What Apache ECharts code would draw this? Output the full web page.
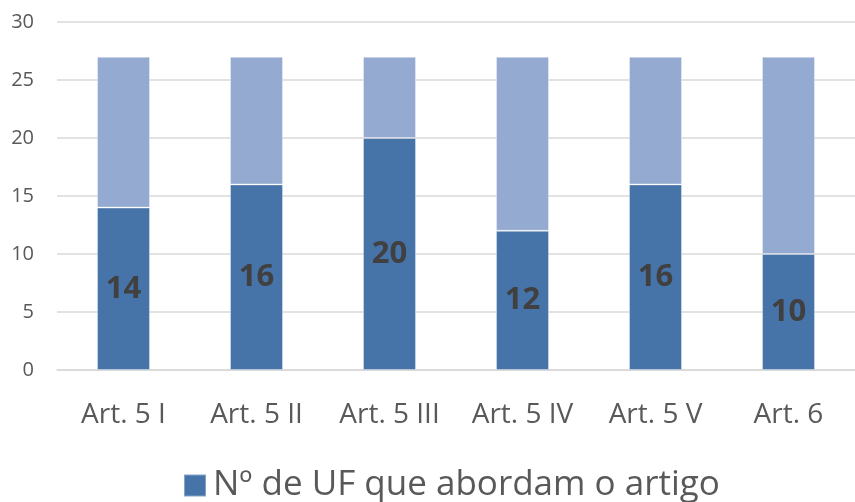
<!DOCTYPE html>
<html>
<head>
<meta charset="utf-8">
<script src="https://cdn.jsdelivr.net/npm/echarts@6/dist/echarts.min.js"></script>
<style>
  html, body { margin: 0; padding: 0; background: #fff; }
  #chart { width: 855px; height: 502px; }
</style>
</head>
<body>
<div id="chart"></div>
<script>
// dados
const categorias = ['Art. 5 I', 'Art. 5 II', 'Art. 5 III', 'Art. 5 IV', 'Art. 5 V', 'Art. 6'];
const abordam = [14, 16, 20, 12, 16, 10];     // Nº de UF que abordam o artigo
const restante = [13, 11, 7, 15, 11, 17];     // parte clara até 27
const yTicks = [0, 5, 10, 15, 20, 25, 30];

const fonte = 'Open Sans';
const chart = echarts.init(document.getElementById('chart'));

const option = {
  animation: false,
  textStyle: { fontFamily: fonte },
  grid: { left: 57, right: 0, top: 22, bottom: 132 },
  legend: {
    data: ['Nº de UF que abordam o artigo'],
    left: 178,
    top: 463,
    icon: 'rect',
    itemWidth: 22,
    itemHeight: 22,
    itemGap: 10,
    textStyle: { fontSize: 35, color: '#595959', fontFamily: fonte, padding: [0, 0, 0, 2] }
  },
  xAxis: {
    type: 'category',
    data: categorias,
    axisLine: { lineStyle: { color: '#D9D9D9', width: 1.5 } },
    axisTick: { show: false },
    axisLabel: { fontSize: 28, color: '#595959', fontFamily: fonte, margin: 31, interval: 0 }
  },
  yAxis: {
    type: 'value',
    min: yTicks[0],
    max: yTicks[yTicks.length - 1],
    interval: 5,
    axisLine: { show: false },
    axisTick: { show: false },
    splitLine: { lineStyle: { color: '#D9D9D9', width: 1.5 } },
    axisLabel: { fontSize: 20, color: '#595959', fontFamily: fonte, margin: 23 }
  },
  series: [
    {
      name: 'Nº de UF que abordam o artigo',
      type: 'bar',
      stack: 'total',
      barWidth: 53,
      data: abordam,
      itemStyle: { color: '#4673A8', borderColor: 'rgba(255,255,255,0.35)', borderWidth: 1 },
      label: {
        show: true,
        position: 'inside',
        fontSize: 31,
        fontWeight: 'bold',
        fontFamily: fonte,
        color: '#404040'
      }
    },
    {
      name: 'restante',
      type: 'bar',
      stack: 'total',
      barWidth: 53,
      data: restante,
      itemStyle: { color: '#95AAD0', borderColor: 'rgba(255,255,255,0.35)', borderWidth: 1 }
    }
  ]
};

chart.setOption(option);
</script>
</body>
</html>
